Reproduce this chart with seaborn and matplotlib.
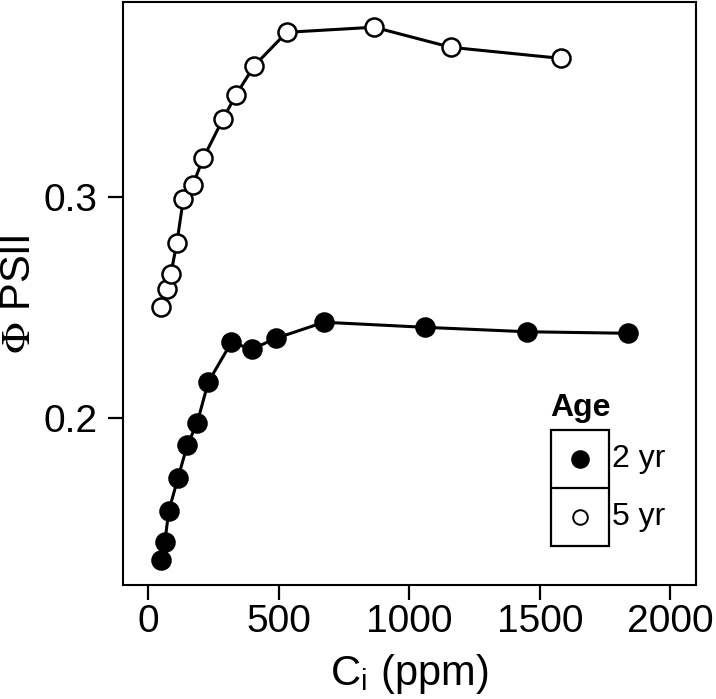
import numpy as np
import pandas as pd
import seaborn as sns
import matplotlib.pyplot as plt
from matplotlib.lines import Line2D
from matplotlib.patches import Rectangle

# data
ci_2yr = [47, 63, 78, 113, 149, 187, 229, 318, 397, 488, 673, 1061, 1450, 1839]
psii_2yr = [0.1356, 0.1439, 0.1578, 0.1726, 0.1876, 0.1977, 0.2160, 0.2341,
            0.2310, 0.2359, 0.2432, 0.2409, 0.2389, 0.2382]
ci_5yr = [47, 72, 86, 109, 134, 170, 210, 285, 335, 406, 530, 865, 1160, 1581]
psii_5yr = [0.2502, 0.2581, 0.2650, 0.2792, 0.2990, 0.3053, 0.3174, 0.3350,
            0.3460, 0.3593, 0.3744, 0.3767, 0.3676, 0.3626]
ages = ['2 yr', '5 yr']

df = pd.DataFrame({
    'Ci': ci_2yr + ci_5yr,
    'PSII': psii_2yr + psii_5yr,
    'Age': [ages[0]] * len(ci_2yr) + [ages[1]] * len(ci_5yr),
})

sns.set_theme(style='white')
plt.rcParams['font.family'] = ['Liberation Sans', 'DejaVu Sans']
plt.rcParams['mathtext.fontset'] = 'stix'
plt.rcParams['text.color'] = 'black'
plt.rcParams['axes.labelcolor'] = 'black'

fig = plt.figure(figsize=(7.16, 6.99), dpi=100)
ax = fig.add_axes([0.1714, 0.1631, 0.8011, 0.834])

fills = {'2 yr': 'black', '5 yr': 'white'}
for age in ages:
    sns.lineplot(data=df[df['Age'] == age], x='Ci', y='PSII', ax=ax,
                 color='black', linewidth=2.2, marker='o', markersize=13,
                 markerfacecolor=fills[age], markeredgecolor='black',
                 markeredgewidth=1.8, zorder=3)

ax.set_xlim(-98.5, 2100)
ax.set_ylim(0.1243, 0.3881)
ax.set_xticks([0, 500, 1000, 1500, 2000])
ax.set_yticks([0.2, 0.3])
ax.set_yticklabels(['0.2', '0.3'])
ax.tick_params(axis='both', direction='out', length=11, width=1.6,
               labelsize=28, color='black', labelcolor='black',
               bottom=True, left=True)
ax.tick_params(axis='x', pad=3)
ax.tick_params(axis='y', pad=7)
for s in ax.spines.values():
    s.set_color('black')
    s.set_linewidth(1.5)

ax.set_xlabel(r'C$_\mathregular{i}$ (ppm)', fontsize=30, labelpad=8)
ax.set_ylabel('')

# figure pixel helpers
W, H = 716, 699
def fx(p):
    return p / W
def fy(p):
    return 1 - p / H

fig.text(fx(19), fy(294), r'$\Phi$ PSII', fontsize=30, rotation=90,
         ha='center', va='center')

# ggplot-style legend
fig.add_artist(Rectangle((fx(550.7), fy(545.7)), fx(609.3) - fx(550.7),
                         fy(430) - fy(545.7), transform=fig.transFigure,
                         facecolor='white', edgecolor='black', linewidth=1.6))
fig.add_artist(Line2D([fx(550.7), fx(609.3)], [fy(488.3), fy(488.3)],
                      transform=fig.transFigure, color='black', linewidth=1.6))
fig.text(fx(580), fy(408), 'Age', fontsize=23, fontweight='bold',
         ha='center', va='center')
for age, py in zip(ages, [459, 517]):
    fig.add_artist(Line2D([fx(580)], [fy(py)], transform=fig.transFigure,
                          marker='o', markersize=12 if age == '2 yr' else 10.5,
                          markerfacecolor=fills[age], markeredgecolor='black',
                          markeredgewidth=1.4, linestyle='none'))
    fig.text(fx(612), fy(py), age, fontsize=23, ha='left', va='center')

fig.savefig('out.png', dpi=100)
